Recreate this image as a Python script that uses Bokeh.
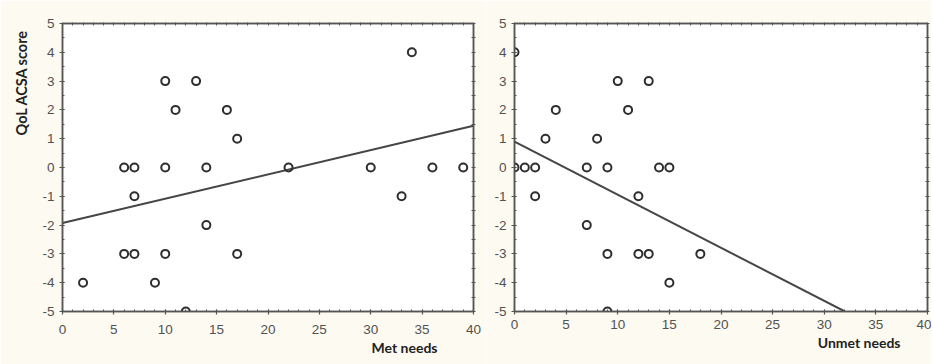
from bokeh.plotting import figure
from bokeh.layouts import row
from bokeh.models import (LinearAxis, Range1d, SingleIntervalTicker, FixedTicker, Title,
                          CustomJSTickFormatter)
from bokeh.embed import file_html
from bokeh.resources import INLINE

# ---- data ----
met_x = [2, 6, 7, 7, 6, 7, 9, 10, 10, 10, 11, 12, 13, 14, 14, 16, 17, 17, 22, 30, 33, 34, 36, 39]
met_y = [-4, 0, 0, -1, -3, -3, -4, 3, 0, -3, 2, -5, 3, 0, -2, 2, 1, -3, 0, 0, -1, 4, 0, 0]
met_fit_x = [0, 40]
met_fit_y = [-1.93, 1.45]

unmet_x = [0, 0, 1, 2, 2, 3, 4, 7, 7, 8, 9, 9, 9, 10, 11, 12, 12, 13, 13, 14, 15, 15, 18]
unmet_y = [4, 0, 0, 0, -1, 1, 2, 0, -2, 1, 0, -3, -5, 3, 2, -1, -3, 3, -3, 0, 0, -4, -3]
unmet_fit_x = [0, 32]
unmet_fit_y = [0.9, -5]

x_minor_ticks = list(range(0, 41))
y_minor_ticks = [v / 2 for v in range(-10, 11)]

y_label = "QoL ACSA score"
x_label_left = "Met needs"
x_label_right = "Unmet needs"

TICK_FONT = "Liberation Sans"
TICK_COLOR = "#525252"
FRAME_COLOR = "#555555"
BORDER_FILL = "#fdfaf1"
TITLE_FONT = "Lato"


def style_axis(ax):
    ax.axis_line_color = FRAME_COLOR
    ax.axis_line_width = 1.5
    ax.major_tick_line_color = FRAME_COLOR
    ax.minor_tick_line_color = FRAME_COLOR
    ax.major_tick_line_width = 1.2
    ax.minor_tick_line_width = 1
    ax.major_tick_out = 3
    ax.major_tick_in = 2
    ax.minor_tick_out = 0
    ax.minor_tick_in = 2
    ax.major_label_text_font = TICK_FONT
    ax.major_label_text_font_size = "13.5px"
    ax.major_label_text_color = TICK_COLOR
    ax.formatter = CustomJSTickFormatter(code="return tick.toString();")


def make_panel(xs, ys, fx, fy, width, height, bl, br, bt, bb, xstand):
    p = figure(width=width, height=height, output_backend="svg", toolbar_location=None,
               x_range=Range1d(0, 40), y_range=Range1d(-5, 5),
               x_axis_location=None, y_axis_location=None,
               min_border_left=bl, min_border_right=br, min_border_top=bt, min_border_bottom=bb)
    p.grid.visible = False
    p.background_fill_color = "white"
    p.border_fill_color = BORDER_FILL
    p.outline_line_color = FRAME_COLOR
    p.outline_line_width = 1.5

    bx = LinearAxis(ticker=SingleIntervalTicker(interval=5, num_minor_ticks=5))
    style_axis(bx)
    bx.major_label_standoff = xstand
    p.add_layout(bx, "below")

    ly = LinearAxis(ticker=SingleIntervalTicker(interval=1, num_minor_ticks=2))
    style_axis(ly)
    ly.major_label_standoff = 5
    p.add_layout(ly, "left")

    tx = LinearAxis(ticker=FixedTicker(ticks=[], minor_ticks=x_minor_ticks))
    style_axis(tx)
    tx.minor_tick_in = 2
    tx.minor_tick_out = 1
    p.add_layout(tx, "above")

    ry = LinearAxis(ticker=FixedTicker(ticks=[], minor_ticks=y_minor_ticks))
    style_axis(ry)
    ry.minor_tick_in = 2
    ry.minor_tick_out = 2
    p.add_layout(ry, "right")

    p.line(fx, fy, line_color="#454545", line_width=2)
    p.scatter(xs, ys, marker="circle", size=8, fill_color=None,
              line_color="#2e2e2e", line_width=2)
    return p


H = 364
W1 = 486
W2 = 445

p1 = make_panel(met_x, met_y, met_fit_x, met_fit_y, W1, H, 62, 13, 23, 53, 10)
p2 = make_panel(unmet_x, unmet_y, unmet_fit_x, unmet_fit_y, W2, H, 28, 4, 20, 47, 5)

p1.add_layout(Title(text=y_label, align="right", offset=6, standoff=20,
                    text_font=TITLE_FONT, text_font_style="bold", text_font_size="14.5px",
                    text_color="#222222"), "left")
p1.add_layout(Title(text=x_label_left, align="right", offset=36, standoff=0,
                    text_font=TITLE_FONT, text_font_style="bold", text_font_size="14px",
                    text_color="#222222"), "below")
p2.add_layout(Title(text=x_label_right, align="right", offset=27, standoff=0,
                    text_font=TITLE_FONT, text_font_style="bold", text_font_size="14px",
                    text_color="#222222"), "below")

layout = row(p1, p2, spacing=0)
open("out.html", "w").write(file_html(layout, INLINE))
